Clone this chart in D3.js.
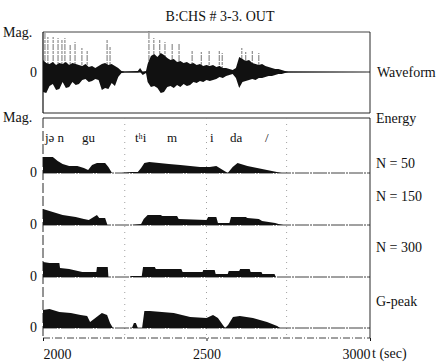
<!DOCTYPE html>
<html>
<head>
<meta charset="utf-8">
<script src="https://cdn.jsdelivr.net/npm/d3@7/dist/d3.min.js"></script>
<style>
    html, body { margin: 0; padding: 0; background: #fff; }
    svg { display: block; }
    text { font-family: "Liberation Serif", "DejaVu Serif", serif; fill: #111; }
</style>
</head>
<body>
<svg id="chart" width="444" height="363"></svg>
<script>
// values (time axis, magnitude in arbitrary units)
const tickValues = [2000, 2500, 3000]
const panelLabels = ["N = 50", "N = 150", "N = 300", "G-peak"]
const segmentTimes = [2250, 2500, 2745]
const phoneLabels = ["jə n", "gu", "tʰi", "m", "i", "da", "/"]
const phoneTimes = [2006, 2119, 2281, 2379, 2511, 2572, 2679]

// waveform envelope: [t, upper, lower]
const waveform = [
    [2000, 12, -20], [2010, 9, -21], [2020, 8, -14], [2030, 10, -12], [2040, 7, -18],
    [2050, 9, -17], [2060, 8, -10], [2070, 10, -16], [2080, 7, -15], [2090, 9, -10],
    [2100, 8, -13], [2110, 7, -12], [2120, 6, -8], [2130, 8, -7], [2140, 5, -10],
    [2150, 6, -9], [2160, 4, -7], [2170, 6, -8], [2180, 8, -18], [2190, 9, -16],
    [2200, 7, -17], [2210, 8, -11], [2220, 6, -14], [2230, 4, -5], [2240, 1, -1],
    [2250, 0.5, -0.5], [2290, 1, -0.5], [2297, 4, 0], [2305, 0, -3], [2315, 1, -1],
    [2320, 8, -10], [2330, 16, -15], [2340, 18, -14], [2350, 15, -16], [2360, 19, -21],
    [2370, 17, -20], [2380, 14, -15], [2390, 12, -14], [2400, 13, -16], [2410, 10, -13],
    [2420, 11, -15], [2430, 9, -12], [2440, 10, -14], [2450, 8, -13], [2460, 9, -10],
    [2470, 7, -11], [2480, 8, -9], [2490, 6, -10], [2500, 7, -8], [2510, 6, -9],
    [2520, 7, -8], [2530, 5, -7], [2540, 6, -5], [2550, 4, -6], [2560, 4, -4],
    [2570, 3, -3], [2580, 2, -2], [2590, 4, -6], [2600, 15, -16], [2610, 13, -10],
    [2620, 11, -9], [2630, 12, -8], [2640, 9, -7], [2650, 8, -8], [2660, 7, -6],
    [2670, 8, -6], [2680, 6, -5], [2690, 5, -4], [2700, 4, -4], [2710, 3, -3],
    [2720, 3, -2], [2730, 2, -2], [2740, 1, -1], [2750, 0.5, -0.5], [3000, 0, 0],
]
const spikeT = [2006, 2015, 2031, 2046, 2058, 2067, 2083, 2098, 2119, 2135, 2196, 2205,
    2324, 2339, 2357, 2373, 2395, 2416, 2456, 2484, 2508, 2539, 2548, 2608, 2620, 2640, 2660]
const spikeHi = [40, 35, 35, 34, 32, 34, 27, 30, 24, 22, 32, 25,
    41, 34, 33, 30, 29, 28, 22, 20, 21, 22, 19, 24, 20, 22, 19]

// energy contours: [t, value]
const energyN50 = [
    [2000, 16], [2030, 16], [2045, 12], [2060, 9], [2080, 7], [2105, 7], [2125, 5], [2138, 3],
    [2150, 8], [2165, 10], [2190, 10], [2200, 6], [2211, 0], [2240, 0], [2270, 1], [2290, 1],
    [2300, 5], [2310, 10], [2325, 11], [2355, 10], [2385, 9], [2420, 8], [2450, 7], [2480, 6],
    [2510, 6], [2530, 7], [2545, 4], [2565, 0], [2580, 6], [2595, 10], [2625, 7], [2655, 5],
    [2685, 3], [2715, 1], [2730, 0], [3000, 0],
]
const energyN150 = [
    [2000, 16], [2030, 13], [2060, 10], [2100, 8], [2125, 6], [2140, 5], [2155, 8], [2165, 10],
    [2172, 7], [2190, 7], [2197, 0], [2270, 0], [2300, 1], [2308, 6], [2320, 10], [2360, 10],
    [2365, 9], [2410, 9], [2415, 6], [2500, 5], [2505, 8], [2530, 8], [2535, 2], [2570, 2],
    [2575, 8], [2620, 8], [2625, 7], [2660, 6], [2670, 4], [2710, 2], [2720, 1], [2735, 0],
    [3000, 0],
]
const energyN300 = [
    [2000, 15], [2020, 14], [2050, 14], [2052, 9], [2080, 8], [2120, 5], [2163, 5], [2165, 10],
    [2198, 10], [2200, 0], [2265, 0], [2270, 1], [2302, 1], [2306, 10], [2342, 10], [2345, 8],
    [2423, 8], [2427, 5], [2488, 5], [2490, 7], [2525, 7], [2528, 3], [2565, 3], [2568, 6],
    [2600, 6], [2603, 8], [2632, 8], [2635, 5], [2668, 5], [2671, 3], [2708, 3], [2712, 0],
    [3000, 0],
]
const energyGPeak = [
    [2000, 18], [2020, 19], [2050, 16], [2085, 15], [2115, 13], [2135, 12], [2144, 6], [2160, 10],
    [2180, 15], [2196, 13], [2205, 5], [2214, 0], [2272, 0], [2278, 5], [2284, 5], [2290, 0],
    [2303, 0], [2310, 17], [2327, 17], [2400, 15], [2450, 11], [2500, 10], [2520, 13], [2535, 10],
    [2550, 3], [2557, 0], [2566, 3], [2581, 11], [2602, 12], [2642, 10], [2685, 6], [2716, 2],
    [2725, 0], [3000, 0],
]
const energySeries = [energyN50, energyN150, energyN300, energyGPeak]

const ink = "#111"
const left = 43, right = 370
const waveTop = 32, waveBottom = 113
const energyTop = 118, axisY = 338
const baselines = [173, 225, 277, 328]
const labelY = [168, 201, 252, 306]

const svg = d3.select("#chart")
const x = d3.scaleLinear().domain([2000, 3000]).range([left, right])
const yWave = d3.scaleLinear().domain([-41, 40]).range([waveBottom, waveTop])
const yEnergy = d3.scaleLinear().domain([0, 50]).range([0, -50])

svg.append("text")
    .attr("x", 220).attr("y", 21)
    .attr("text-anchor", "middle")
    .attr("font-size", 14)
    .text("B:CHS # 3-3. OUT")

// waveform box
const frame = svg.append("g").attr("stroke", ink).attr("fill", "none")
frame.append("line").attr("x1", left).attr("x2", right).attr("y1", waveTop).attr("y2", waveTop)
    .attr("stroke-width", 0.8)
frame.append("line").attr("x1", left).attr("x2", right).attr("y1", waveBottom).attr("y2", waveBottom)
    .attr("stroke-width", 0.9)
frame.append("line").attr("x1", left).attr("x2", left).attr("y1", waveTop).attr("y2", waveBottom)
    .attr("stroke-width", 1.2)
frame.append("line").attr("x1", right).attr("x2", right).attr("y1", waveTop).attr("y2", waveBottom)
    .attr("stroke-width", 0.9)
frame.append("line").attr("x1", x(2000)).attr("x2", x(3000)).attr("y1", yWave(0)).attr("y2", yWave(0))
    .attr("stroke-width", 0.9)

// thin spikes first, dense envelope on top
svg.append("g")
    .selectAll("line")
    .data(spikeT.map((t, i) => [t, spikeHi[i]]))
    .join("line")
    .attr("x1", (d) => x(d[0])).attr("x2", (d) => x(d[0]))
    .attr("y1", yWave(0)).attr("y2", (d) => yWave(d[1]))
    .attr("stroke", "#666")
    .attr("stroke-width", 0.9)
    .attr("stroke-dasharray", "6,1,3,1")

svg.append("path")
    .datum(waveform)
    .attr("fill", ink)
    .attr("d", d3.area()
        .x((d) => x(d[0]))
        .y0((d) => yWave(d[2]))
        .y1((d) => yWave(d[1])))

// energy frame
frame.append("line").attr("x1", left).attr("x2", right).attr("y1", energyTop).attr("y2", energyTop)
    .attr("stroke-width", 0.9)
frame.append("line").attr("x1", left).attr("x2", left).attr("y1", energyTop).attr("y2", axisY)
    .attr("stroke-width", 0.9).attr("stroke-dasharray", "10,3")
frame.append("line").attr("x1", right).attr("x2", right).attr("y1", energyTop).attr("y2", axisY)
    .attr("stroke-width", 0.9)
frame.append("line").attr("x1", left).attr("x2", right).attr("y1", axisY).attr("y2", axisY)
    .attr("stroke-width", 0.8).attr("stroke-dasharray", "7,2,1,2")

svg.append("g")
    .selectAll("line")
    .data(segmentTimes)
    .join("line")
    .attr("x1", (d) => x(d)).attr("x2", (d) => x(d))
    .attr("y1", energyTop).attr("y2", axisY)
    .attr("stroke", "#888")
    .attr("stroke-width", 0.8)
    .attr("stroke-dasharray", "1,5")

svg.append("g")
    .selectAll("text")
    .data(phoneLabels)
    .join("text")
    .attr("x", (d, i) => x(phoneTimes[i]))
    .attr("y", 142)
    .attr("font-family", "DejaVu Sans, sans-serif")
    .attr("font-size", 13)
    .text((d) => d)

energySeries.forEach((series, i) => {
    const g = svg.append("g").attr("transform", `translate(0, ${baselines[i]})`)
    g.append("path")
        .datum(series)
        .attr("fill", ink)
        .attr("d", d3.area()
            .x((d) => x(d[0]))
            .y0(yEnergy(0))
            .y1((d) => yEnergy(d[1])))
    g.append("line")
        .attr("x1", x(2000)).attr("x2", x(3000))
        .attr("stroke", ink)
        .attr("stroke-width", 0.8)
        .attr("stroke-dasharray", "14,1,2,1")
    g.append("text")
        .attr("x", 37).attr("y", 4)
        .attr("text-anchor", "end")
        .attr("font-size", 14)
        .text("0")
    svg.append("text")
        .attr("x", 376).attr("y", labelY[i])
        .attr("font-size", 14)
        .text(panelLabels[i])
})

svg.append("text").attr("x", 3).attr("y", 37).attr("font-size", 14).text("Mag.")
svg.append("text").attr("x", 3).attr("y", 122).attr("font-size", 14).text("Mag.")
svg.append("text").attr("x", 37).attr("y", yWave(0) + 5)
    .attr("text-anchor", "end").attr("font-size", 14).text("0")
svg.append("text").attr("x", 377).attr("y", 77).attr("font-size", 14).text("Waveform")
svg.append("text").attr("x", 376).attr("y", 123).attr("font-size", 14).text("Energy")

const axis = svg.append("g")
    .attr("transform", `translate(0, ${axisY})`)
    .call(d3.axisBottom(x).tickValues(tickValues).tickSize(3).tickPadding(8)
        .tickFormat(d3.format("d")))
axis.select(".domain").remove()
axis.selectAll("line").attr("stroke", ink)
axis.selectAll("text")
    .attr("font-family", "Liberation Serif, serif")
    .attr("font-size", 14)
    .attr("fill", ink)
    .attr("text-anchor", (d, i) => (i === 0 ? "start" : i === tickValues.length - 1 ? "end" : "middle"))
svg.append("text").attr("x", 372).attr("y", 358).attr("font-size", 14).text("t (sec)")
</script>
</body>
</html>
